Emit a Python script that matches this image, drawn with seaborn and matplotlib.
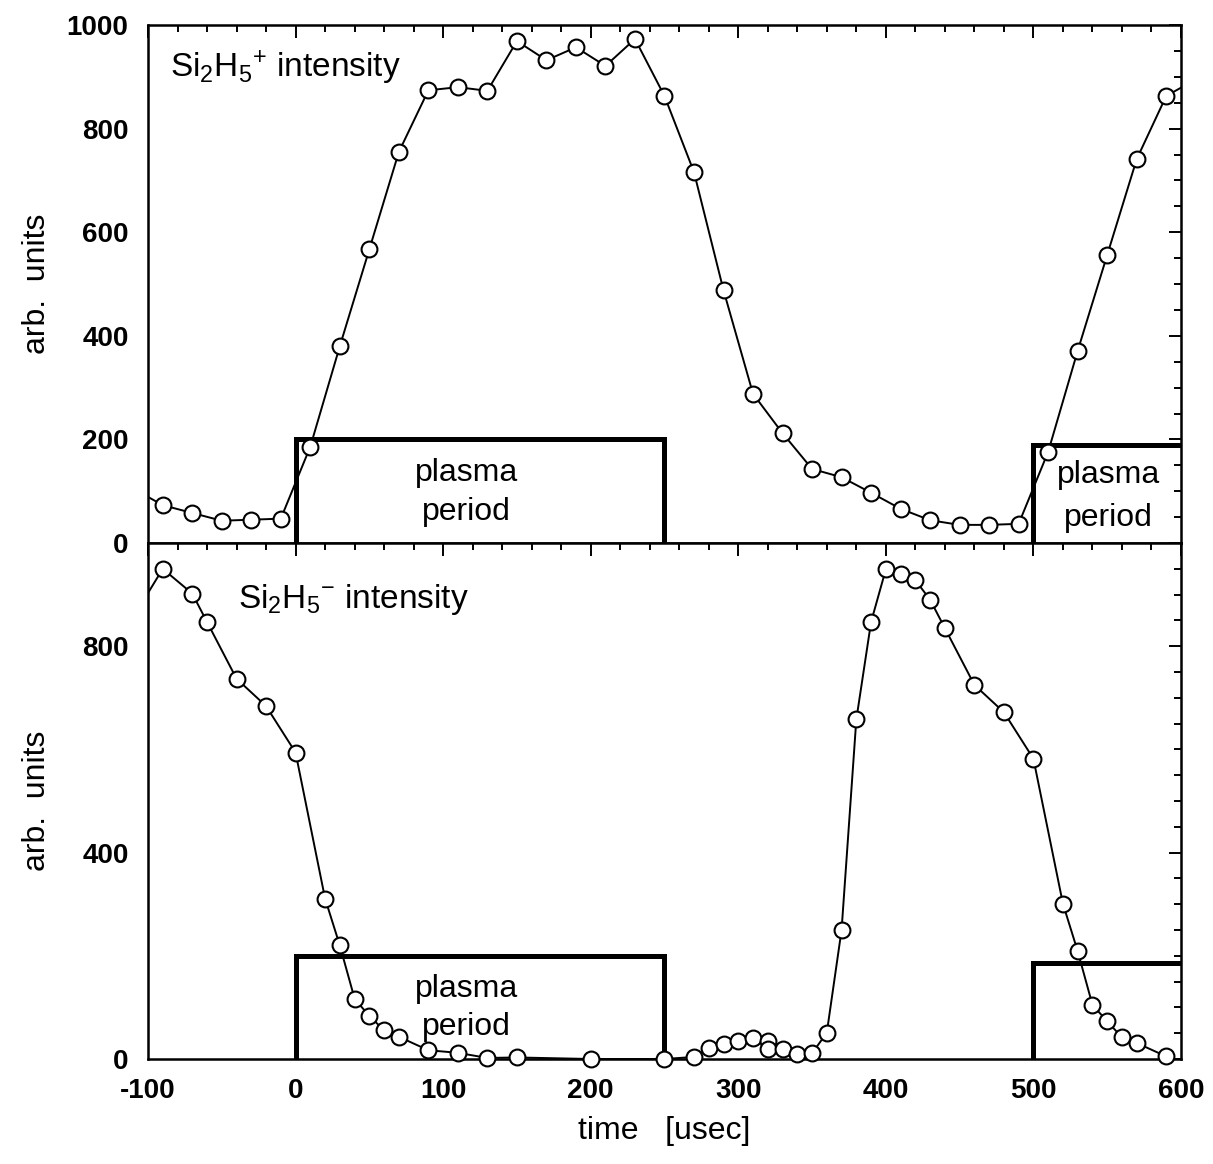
import matplotlib
matplotlib.use('Agg')
import matplotlib.pyplot as plt
from matplotlib.ticker import MultipleLocator
import seaborn as sns

sns.set_style('white')
plt.rcParams['font.family'] = ['Liberation Sans', 'DejaVu Sans']
plt.rcParams['mathtext.fontset'] = 'custom'
plt.rcParams['mathtext.rm'] = 'Liberation Sans'
plt.rcParams['mathtext.it'] = 'Liberation Sans:italic'
plt.rcParams['mathtext.bf'] = 'Liberation Sans:bold'
plt.rcParams['text.color'] = 'black'
plt.rcParams['axes.labelcolor'] = 'black'
plt.rcParams['xtick.color'] = 'black'
plt.rcParams['ytick.color'] = 'black'

# Si2H5+ intensity (top panel)
t_pos = [-110, -90, -70, -50, -30, -10, 10, 30, 50, 70, 90, 110, 130, 150, 170,
         190, 210, 230, 250, 270, 290, 310, 330, 350, 370, 390, 410, 430, 450,
         470, 490, 510, 530, 550, 570, 590, 610]
i_pos = [105, 73, 58, 43, 45, 47, 186, 380, 567, 755, 874, 880, 873, 969, 932,
         957, 921, 973, 863, 716, 488, 288, 212, 143, 127, 97, 66, 44, 35,
         35, 37, 176, 371, 556, 741, 863, 895]

# Si2H5- intensity (bottom panel)
t_neg = [-110, -90, -70, -60, -40, -20, 0, 20, 30, 40, 50, 60, 70, 90, 110, 130,
         150, 200, 250, 270, 280, 290, 300, 310, 320, 320, 330, 340, 350, 360,
         370, 380, 390, 400, 410, 420, 430, 440, 460, 480, 500, 520, 530, 540,
         550, 560, 570, 590]
i_neg = [856, 950, 902, 847, 737, 684, 594, 311, 220, 117, 83, 56, 43, 17, 12, 2,
         3, 0, 0, 4, 21, 29, 35, 40, 35, 19, 19, 9, 11, 51,
         250, 658, 847, 949, 939, 928, 890, 835, 725, 672, 582, 301, 209, 105,
         73, 42, 31, 5]

# plasma-on pulses
pulse_on = [0, 500]
pulse_off = [250, 650]
pulse_h_top = [200, 190]
pulse_h_bot = [200, 187]

xticks = [-100, 0, 100, 200, 300, 400, 500, 600]
yticks_top = [0, 200, 400, 600, 800, 1000]
yticks_bot = [0, 400, 800]

fig = plt.figure(figsize=(12.13, 11.64), dpi=100)
ax1 = fig.add_axes([0.122, 0.5335, 0.8516, 0.4450])
ax2 = fig.add_axes([0.122, 0.0902, 0.8516, 0.4433])


def draw(ax, t, v, heights):
    sns.lineplot(x=t, y=v, ax=ax, color='black', lw=1.4,
                 estimator=None, sort=False)
    tin = [a for a in t if -100 <= a <= 600]
    vin = [b for a, b in zip(t, v) if -100 <= a <= 600]
    sns.scatterplot(x=tin, y=vin, ax=ax, s=130, color='white',
                    edgecolor='black', linewidth=1.5, zorder=3, clip_on=False)
    for on, off, h in zip(pulse_on, pulse_off, heights):
        ax.plot([on, on, off, off], [0, h, h, 0], color='black', lw=3.6,
                solid_joinstyle='miter', zorder=2)


draw(ax1, t_pos, i_pos, pulse_h_top)
draw(ax2, t_neg, i_neg, pulse_h_bot)

for ax, yt in ((ax1, yticks_top), (ax2, yticks_bot)):
    ax.set_xlim(-100, 600)
    ax.set_ylim(0, 1000)
    ax.set_xticks(xticks)
    ax.set_xticklabels([str(v) for v in xticks], fontweight='bold', fontsize=20)
    ax.set_yticks(yt)
    ax.set_yticklabels([str(v) for v in yt], fontweight='bold', fontsize=20)
    ax.xaxis.set_minor_locator(MultipleLocator(20))
    ax.yaxis.set_minor_locator(MultipleLocator(50))
    ax.tick_params(which='both', direction='in', top=True, right=True,
                   width=1.4, color='black', pad=14)
    ax.tick_params(which='major', length=9)
    ax.tick_params(which='minor', length=5)
    for sp in ax.spines.values():
        sp.set_linewidth(1.8)
        sp.set_color('black')
    ax.set_ylabel('arb.  units', fontsize=23)
    ax.yaxis.set_label_coords(-0.093, 0.5)

ax1.tick_params(labelbottom=False)
ax2.set_xlabel('time   [usec]', fontsize=23, labelpad=8)

ax1.text(-85, 900, r'Si$_2$H$_5$$^{+}$ intensity', fontsize=24)
ax2.text(-39, 875, r'Si$_2$H$_5$$^{-}$ intensity', fontsize=24)

for ax, x, y1, y2 in ((ax1, 116, 120, 45), (ax1, 551, 116, 32), (ax2, 116, 121, 46)):
    ax.text(x, y1, 'plasma', fontsize=23, ha='center', va='baseline')
    ax.text(x, y2, 'period', fontsize=23, ha='center', va='baseline')

fig.savefig('out.png', dpi=100)
